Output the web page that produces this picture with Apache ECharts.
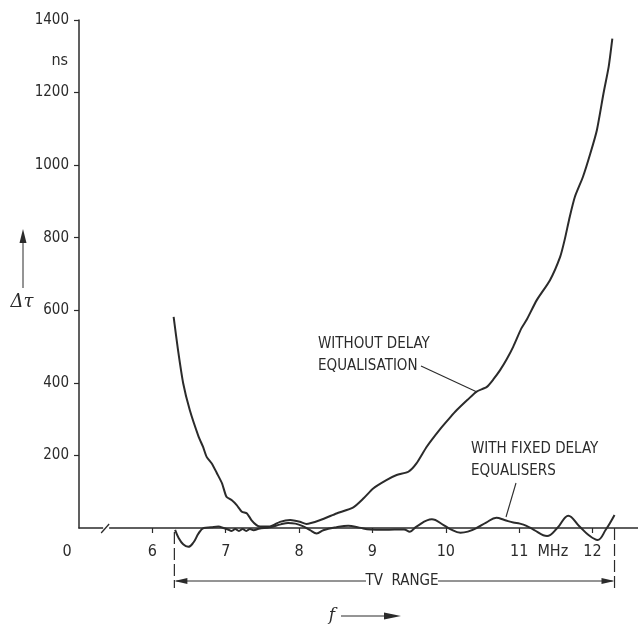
<!DOCTYPE html>
<html>
<head>
<meta charset="utf-8">
<script src="https://cdn.jsdelivr.net/npm/echarts@6/dist/echarts.min.js"></script>
<style>
html,body{margin:0;padding:0;background:#fff;}
#c{width:638px;height:624px;}
</style>
</head>
<body>
<div id="c"></div>
<script>
// ---- data (frequency in MHz, delay difference in ns) ----
const freqNoEq = [6.29, 6.35, 6.42, 6.51, 6.63, 6.69, 6.74, 6.81, 6.88, 6.95, 7.01, 7.08, 7.15, 7.22, 7.29, 7.35, 7.42, 7.47, 7.60, 7.74, 7.88, 8.01, 8.10, 8.29, 8.51, 8.74, 8.88, 9.01, 9.19, 9.33, 9.49, 9.60, 9.74, 9.92, 10.06, 10.15, 10.30, 10.42, 10.56, 10.65, 10.74, 10.83, 10.92, 11.03, 11.10, 11.24, 11.42, 11.56, 11.62, 11.69, 11.76, 11.87, 11.97, 12.06, 12.15, 12.22, 12.27];
const delayNoEq = [582, 490, 399, 325, 252, 224, 196, 178, 151, 123, 86, 77, 63, 45, 40, 22, 8, 4, 4, 17, 22, 17, 11, 22, 40, 57, 82, 109, 132, 146, 155, 178, 224, 272, 305, 325, 354, 376, 389, 410, 435, 465, 500, 550, 573, 628, 683, 748, 794, 858, 913, 968, 1032, 1097, 1198, 1271, 1349];

const freqEq = [6.31, 6.36, 6.42, 6.49, 6.56, 6.63, 6.70, 6.80, 6.90, 6.97, 7.03, 7.08, 7.13, 7.18, 7.23, 7.28, 7.33, 7.38, 7.45, 7.60, 7.75, 7.85, 7.95, 8.05, 8.15, 8.24, 8.33, 8.51, 8.67, 8.82, 8.97, 9.15, 9.30, 9.43, 9.51, 9.60, 9.81, 9.97, 10.06, 10.20, 10.30, 10.42, 10.55, 10.69, 10.80, 10.92, 11.01, 11.10, 11.20, 11.38, 11.52, 11.67, 11.82, 11.95, 12.07, 12.18, 12.30];
const delayEq = [-5, -28, -45, -52, -40, -15, 0, 2, 4, 0, -4, -8, -3, -8, -3, -8, -3, -6, -2, 2, 10, 14, 12, 5, -6, -15, -6, 2, 6, 1, -4, -5, -4, -4, -10, 4, 24, 8, -3, -13, -10, 0, 15, 28, 22, 15, 12, 6, -5, -22, 0, 34, 5, -20, -33, -5, 36];

const xTickValues = [6, 7, 8, 9, 10, 11, 12];
const xLabelValues = [5, 6, 7, 8, 9, 10, 11, 12];
const tvRange = [6.3, 12.3];

const FONT = "'Liberation Sans Narrow', 'DejaVu Sans Condensed', sans-serif";
const INK = '#2b2b2b';

const chart = echarts.init(document.getElementById('c'), null, {renderer: 'canvas'});

function pairs(xs, ys) { return xs.map((x, i) => [x, ys[i]]); }

chart.setOption({
  animation: false,
  backgroundColor: '#fff',
  grid: {left: 79, right: 0, top: 20, bottom: 96},
  xAxis: {
    type: 'value', min: 5, max: 12.62, interval: 1,
    axisLine: {show: true, lineStyle: {color: INK, width: 1.5}},
    axisTick: {show: true, length: 5, customValues: xTickValues, lineStyle: {color: INK, width: 1.2}},
    splitLine: {show: false},
    axisLabel: {
      customValues: xLabelValues, margin: 16, color: INK, fontFamily: FONT, fontSize: 16,
      formatter: v => v === 5 ? '{o|0}' : String(v),
      rich: {o: {padding: [0, 24, 0, 0], fontFamily: FONT, fontSize: 16, color: INK}}
    }
  },
  yAxis: {
    type: 'value', min: 0, max: 1400, interval: 200,
    axisLine: {show: true, lineStyle: {color: INK, width: 1.5}},
    axisTick: {show: true, length: 5, lineStyle: {color: INK, width: 1.2}},
    splitLine: {show: false},
    axisLabel: {margin: 10, color: INK, fontFamily: FONT, fontSize: 15, showMinLabel: false,
      formatter: v => v === 0 ? '' : String(v)}
  },
  series: [
    {type: 'line', name: 'without', data: pairs(freqNoEq, delayNoEq), smooth: 0.2, showSymbol: false,
     lineStyle: {color: INK, width: 2}},
    {type: 'line', name: 'with', data: pairs(freqEq, delayEq), smooth: 0.4, showSymbol: false, clip: false,
     lineStyle: {color: INK, width: 2}}
  ]
});

function px(x, y) { return chart.convertToPixel({gridIndex: 0}, [x, y]); }

const axisY = px(5, 0)[1];
const xL = px(tvRange[0], 0)[0];
const xR = px(tvRange[1], 0)[0];
const arrowY = 581;
const g = [];
const ln = (x1, y1, x2, y2, extra) => ({type: 'line', shape: {x1, y1, x2, y2}, style: Object.assign({stroke: INK, lineWidth: 1.2}, extra || {}), z: 10});
const txt = (text, x, y, align, opts) => ({type: 'text', x, y, style: Object.assign({text, fill: INK, font: '15px ' + FONT, textAlign: align || 'left', textVerticalAlign: 'middle'}, opts || {}), z: 10});

// axis break mark
const bx = px(5.37, 0)[0];
g.push({type: 'rect', shape: {x: bx - 3, y: axisY - 3, width: 6, height: 6}, style: {fill: '#fff'}, z: 9});
g.push(ln(bx - 5, axisY + 5, bx + 3, axisY - 4, {lineWidth: 1.3}));

// TV range markers
g.push(ln(xL, axisY + 4, xL, 588, {lineDash: [12, 4]}));
g.push(ln(xR, axisY, xR, 588, {lineDash: [12, 4]}));
g.push(ln(xL + 2, arrowY, 366, arrowY, {lineWidth: 1}));
g.push(ln(438, arrowY, xR - 2, arrowY, {lineWidth: 1}));
g.push({type: 'polygon', shape: {points: [[xL, arrowY], [xL + 13, arrowY - 3], [xL + 13, arrowY + 3]]}, style: {fill: INK}, z: 10});
g.push({type: 'polygon', shape: {points: [[xR, arrowY], [xR - 13, arrowY - 3], [xR - 13, arrowY + 3]]}, style: {fill: INK}, z: 10});
g.push(txt('TV  RANGE', 402, arrowY, 'center'));

// f axis title with arrow
g.push(txt('f', 332, 616, 'center', {font: 'italic 17px DejaVu Serif'}));
g.push(ln(341, 616, 392, 616, {lineWidth: 1}));
g.push({type: 'polygon', shape: {points: [[401, 616], [384, 612.5], [384, 619.5]]}, style: {fill: INK}, z: 10});

// MHz unit
g.push(txt('MHz', px(11.5, 0)[0] - 3, axisY + 24, 'center', {font: '16px ' + FONT}));

// y title
g.push(txt('ns', 68, 61, 'right', {font: '16px ' + FONT}));
g.push(txt('\u0394\u03C4', 22, 302, 'center', {font: 'italic 18px DejaVu Serif'}));
g.push(ln(23, 288, 23, 240, {lineWidth: 1}));
g.push({type: 'polygon', shape: {points: [[23, 229], [19.5, 243], [26.5, 243]]}, style: {fill: INK}, z: 10});

// annotations
g.push(txt('WITHOUT DELAY', 318, 344));
g.push(txt('EQUALISATION', 318, 366));
g.push(ln(421, 366, 477, 392, {lineWidth: 1.1}));
g.push(txt('WITH FIXED DELAY', 471, 449));
g.push(txt('EQUALISERS', 471, 471));
g.push(ln(516, 483, 506, 517, {lineWidth: 1.1}));

chart.setOption({graphic: {elements: g}});
</script>
</body>
</html>
